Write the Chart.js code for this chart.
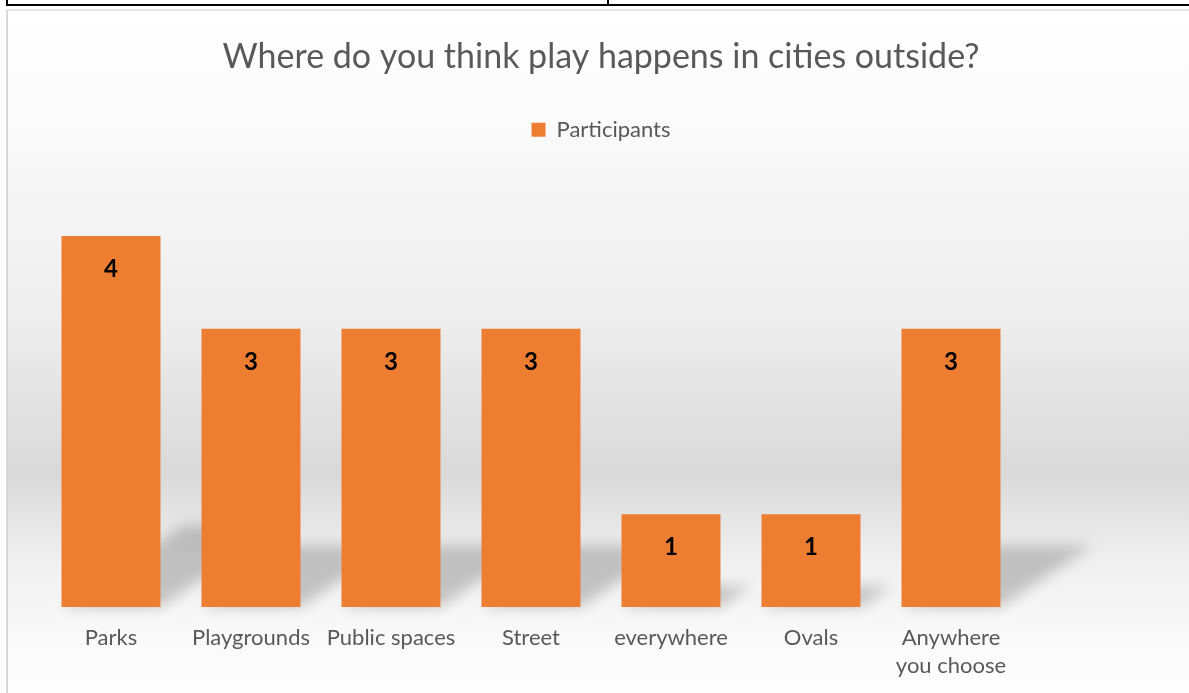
<!DOCTYPE html>
<html>
<head>
<meta charset="utf-8">
<script src="https://cdn.jsdelivr.net/npm/chart.js@4/dist/chart.umd.min.js"></script>
<style>
  html, body { margin: 0; padding: 0; width: 1189px; height: 693px; overflow: hidden; background: #ffffff; }
  #tbl { position: absolute; left: 6px; top: -2px; width: 1200px; height: 6px; border-left: 2px solid #000; border-bottom: 2px solid #000; }
  #tblv { position: absolute; left: 607px; top: 0; width: 2px; height: 6px; background: #000; }
  #wrap { position: absolute; left: 6px; top: 9px; width: 1195px; height: 684px; }
  #frame { position: absolute; left: 6px; top: 9px; width: 1195px; height: 700px; border-left: 2px solid #d9d9d9; border-top: 2px solid #e6e6e6; box-sizing: border-box; pointer-events: none; }
</style>
</head>
<body>
<div id="tbl"></div>
<div id="tblv"></div>
<div id="wrap"><canvas id="c" width="1195" height="684"></canvas></div>
<div id="frame"></div>
<script>
const titleText = 'Where do you think play happens in cities outside?';
const seriesName = 'Participants';
const categories = ['Parks', 'Playgrounds', 'Public spaces', 'Street', 'everywhere', 'Ovals', ['Anywhere', 'you choose'], ''];
const participants = [4, 3, 3, 3, 1, 1, 3, null];

const FONT = 'Lato, "Open Sans", sans-serif';
const BAR = '#ED7D31';
const TEXT = '#595959';

const bgPlugin = {
  id: 'bg',
  beforeDraw(chart) {
    const { ctx, width, height } = chart;
    const g = ctx.createLinearGradient(0, 0, 0, height);
    g.addColorStop(0, '#ffffff');
    g.addColorStop(0.15, '#fbfbfb');
    g.addColorStop(0.45, '#eeeeee');
    g.addColorStop(0.68, '#d9d9d9');
    g.addColorStop(0.8, '#efefef');
    g.addColorStop(0.9, '#f8f8f8');
    g.addColorStop(1, '#fefefe');
    ctx.save();
    ctx.fillStyle = g;
    ctx.fillRect(0, 0, width, height);
    ctx.restore();
  }
};

const shadowPlugin = {
  id: 'shadow',
  beforeDatasetsDraw(chart) {
    const { ctx } = chart;
    const meta = chart.getDatasetMeta(0);
    ctx.save();
    ctx.filter = 'blur(7px)';
    ctx.fillStyle = 'rgba(0,0,0,0.2)';
    meta.data.forEach((bar) => {
      if (bar.skip || bar.y == null || isNaN(bar.y)) return;
      const h = bar.base - bar.y;
      if (h <= 0) return;
      const w = bar.width;
      const left = bar.x - w / 2, right = bar.x + w / 2;
      const dx = h * 0.33, dy = h * 0.22;
      ctx.beginPath();
      ctx.moveTo(left, bar.base);
      ctx.lineTo(right, bar.base);
      ctx.lineTo(right + dx, bar.base - dy);
      ctx.lineTo(left + dx, bar.base - dy);
      ctx.closePath();
      ctx.fill();
    });
    ctx.restore();
  }
};

const labelPlugin = {
  id: 'vals',
  afterDatasetsDraw(chart) {
    const { ctx } = chart;
    const meta = chart.getDatasetMeta(0);
    ctx.save();
    ctx.font = 'bold 24px ' + FONT;
    ctx.fillStyle = '#000000';
    ctx.textAlign = 'center';
    ctx.textBaseline = 'middle';
    meta.data.forEach((bar, i) => {
      const v = participants[i];
      if (v == null) return;
      ctx.fillText(String(v), bar.x, bar.y + 33);
    });
    ctx.restore();
  }
};

new Chart(document.getElementById('c'), {
  type: 'bar',
  data: {
    labels: categories,
    datasets: [{
      label: seriesName,
      data: participants,
      backgroundColor: BAR,
      borderWidth: 0,
      categoryPercentage: 1,
      barPercentage: 0.707
    }]
  },
  options: {
    responsive: false,
    animation: false,
    devicePixelRatio: 1,
    layout: { padding: { left: 35, right: 40, top: 0, bottom: 0 } },
    plugins: {
      title: {
        display: true,
        text: titleText,
        color: TEXT,
        font: { family: FONT, size: 34, weight: 'normal', lineHeight: 1.2 },
        padding: { top: 28, bottom: 31 }
      },
      legend: {
        display: true,
        labels: {
          color: TEXT,
          font: { family: FONT, size: 22 },
          boxWidth: 14,
          boxHeight: 14,
          padding: 10
        }
      },
      tooltip: { enabled: false }
    },
    scales: {
      x: {
        grid: { display: false, drawTicks: false },
        border: { display: false },
        ticks: {
          color: TEXT,
          font: { family: FONT, size: 22, lineHeight: 1.27 },
          padding: 17,
          maxRotation: 0,
          autoSkip: false
        },
        afterFit(scale) { scale.height = 86; }
      },
      y: {
        display: false,
        min: 0,
        max: 4.92
      }
    }
  },
  plugins: [bgPlugin, shadowPlugin, labelPlugin]
});
</script>
</body>
</html>
